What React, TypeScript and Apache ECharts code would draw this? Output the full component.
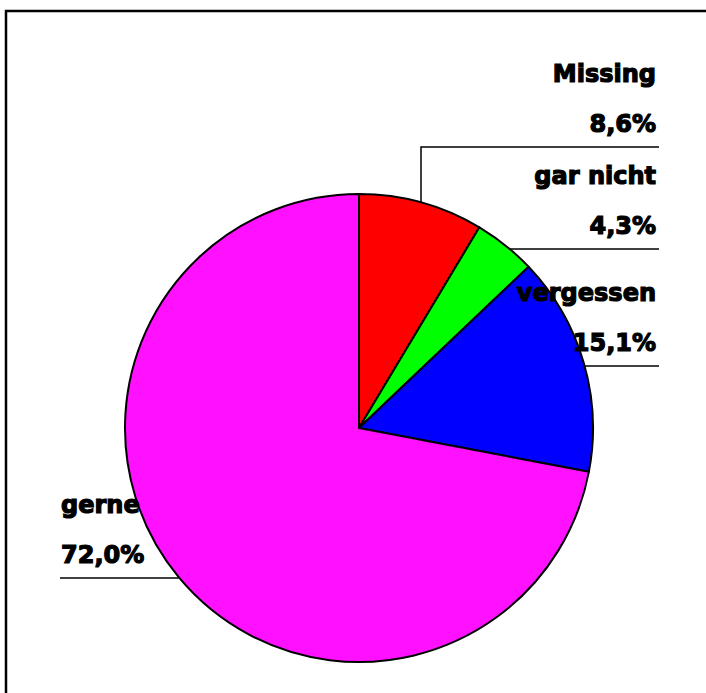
import React, { useEffect, useRef } from "react";
import * as echarts from "echarts";

const categories = ["Missing", "gar nicht", "vergessen", "gerne"];
const values = [8.6, 4.3, 15.1, 72.0];
const colors = ["#ff0000", "#00ff00", "#0000ff", "#ff10ff"];

const CX = 359;
const CY = 428;
const R = 234;

const LABEL_LAYOUT = [
  { side: "right", lineY: 147, elbowX: 421 },
  { side: "right", lineY: 249 },
  { side: "right", lineY: 366 },
  { side: "left", lineY: 578 },
];

const fmt = (v: number) => v.toFixed(1).replace(".", ",") + "%";

const textStyle = {
  fontFamily: "DejaVu Sans",
  fontWeight: "bold",
  fontSize: 24,
  lineHeight: 50,
  color: "#000",
  textBorderColor: "#000",
  textBorderWidth: 1.2,
};

export default function App() {
  const ref = useRef<HTMLDivElement>(null);
  useEffect(() => {
    if (!ref.current) return;
    const chart = echarts.init(ref.current, null, { renderer: "svg" });
    chart.setOption({
      animation: false,
      backgroundColor: "#ffffff",
      graphic: [
        {
          type: "rect",
          z: -10,
          shape: { x: 6, y: 11, width: 720, height: 720 },
          style: { fill: "none", stroke: "#000", lineWidth: 2.5 },
        },
      ],
      series: [
        {
          type: "pie",
          center: [CX, CY],
          radius: R,
          startAngle: 90,
          clockwise: true,
          avoidLabelOverlap: false,
          data: categories.map((c, i) => ({
            name: c,
            value: values[i],
            itemStyle: { color: colors[i] },
          })),
          itemStyle: { borderColor: "#000", borderWidth: 2 },
          label: {
            show: true,
            position: "outside",
            formatter: (p: any) => `{n|${p.name}}\n{v|${fmt(p.value)}}`,
            rich: { n: textStyle, v: textStyle },
          },
          labelLine: {
            show: true,
            lineStyle: { color: "#000", width: 1.5 },
          },
          labelLayout: (params: any) => {
            const L: any = LABEL_LAYOUT[params.dataIndex];
            const ly = L.lineY;
            const dy = ly - CY;
            const half = Math.sqrt(Math.max(R * R - dy * dy, 0));
            if (L.side === "right") {
              let pts;
              if (L.elbowX !== undefined) {
                const dx = L.elbowX - CX;
                const ey = CY - Math.sqrt(R * R - dx * dx);
                pts = [
                  [L.elbowX, ey],
                  [L.elbowX, ly],
                  [659, ly],
                ];
              } else {
                const ex = CX + half;
                pts = [
                  [ex, ly],
                  [ex, ly],
                  [659, ly],
                ];
              }
              return {
                x: 656,
                y: ly - 48,
                align: "right",
                verticalAlign: "middle",
                labelLinePoints: pts,
              };
            } else {
              const ex = CX - half;
              return {
                x: 61,
                y: ly - 48,
                align: "left",
                verticalAlign: "middle",
                labelLinePoints: [
                  [ex, ly],
                  [ex, ly],
                  [60, ly],
                ],
              };
            }
          },
        },
      ],
    });
    return () => chart.dispose();
  }, []);
  return (
    <div
      ref={ref}
      style={{ position: "fixed", left: 0, top: 0, width: 706, height: 693 }}
    />
  );
}
